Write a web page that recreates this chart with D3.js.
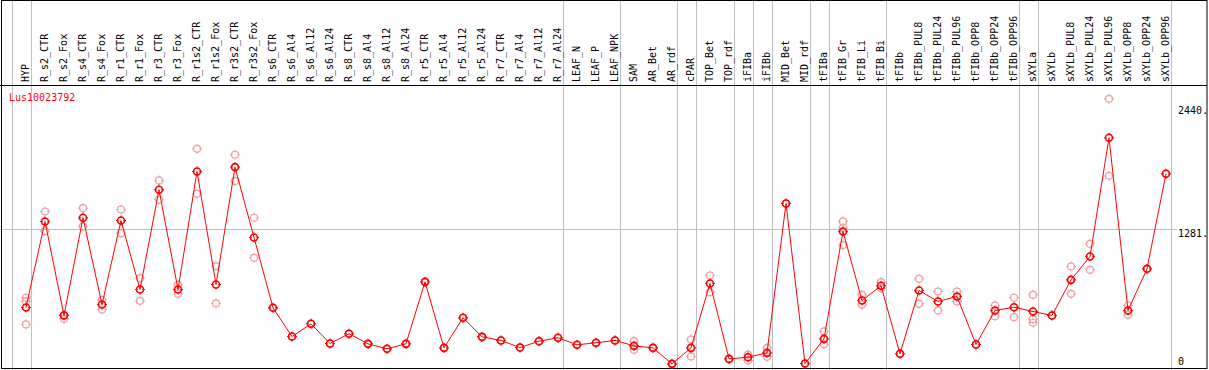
<!DOCTYPE html>
<html>
<head>
<meta charset="utf-8">
<script src="https://cdn.jsdelivr.net/npm/d3@7"></script>
<style>
  body { margin: 0; background: #fff; }
  text { font-family: "DejaVu Sans Mono", monospace; font-size: 10px; }
</style>
</head>
<body>
<script>
"use strict";

// sample names along the x axis
const samples = ["HYP", "R_s2_CTR", "R_s2_Fox", "R_s4_CTR", "R_s4_Fox", "R_r1_CTR", "R_r1_Fox",
  "R_r3_CTR", "R_r3_Fox", "R_r1s2_CTR", "R_r1s2_Fox", "R_r3s2_CTR", "R_r3s2_Fox",
  "R_s6_CTR", "R_s6_Al4", "R_s6_Al12", "R_s6_Al24", "R_s8_CTR", "R_s8_Al4", "R_s8_Al12", "R_s8_Al24",
  "R_r5_CTR", "R_r5_Al4", "R_r5_Al12", "R_r5_Al24", "R_r7_CTR", "R_r7_Al4", "R_r7_Al12", "R_r7_Al24",
  "LEAF_N", "LEAF_P", "LEAF_NPK", "SAM", "AR_Bet", "AR_rdf", "cPAR", "TOP_Bet", "TOP_rdf",
  "iFIBa", "iFIBb", "MID_Bet", "MID_rdf", "tFIBa", "tFIB_Gr", "tFIB_Li", "tFIB_Bi", "tFIBb",
  "tFIBb_PUL8", "tFIBb_PUL24", "tFIBb_PUL96", "tFIBb_OPP8", "tFIBb_OPP24", "tFIBb_OPP96",
  "sXYLa", "sXYLb", "sXYLb_PUL8", "sXYLb_PUL24", "sXYLb_PUL96", "sXYLb_OPP8", "sXYLb_OPP24", "sXYLb_OPP96"];

// mean expression per sample
const means = [538, 1350, 462, 1385, 566, 1359, 708, 1649, 708, 1822, 755, 1863, 1199,
  535, 264, 384, 198, 290, 195, 148, 195, 780, 157, 441, 261, 227, 160, 220, 252,
  186, 205, 227, 176, 157, 6, 157, 765, 53, 69, 110, 1520, 9, 242, 1256, 604, 743, 101,
  699, 595, 642, 189, 510, 541, 500, 463, 799, 1020, 2140, 510, 903, 1800];

// individual replicates (pale circles)
const replicates = [[630, 595, 378], [1444, 1258], [470, 431], [1476, 1303], [611, 519],
  [1463, 1240], [815, 601], [1737, 1555], [752, 667], [2036, 1611], [928, 576], [1980, 1731],
  [1385, 1007], [535], [264], [384], [198], [290], [195], [148], [195], [780], [157], [441],
  [261], [227], [160], [220], [252], [186], [205], [227], [220, 139], [157], [6], [236, 76],
  [840, 683], [53], [94, 38], [157, 72], [1520], [9], [312, 192], [1350, 1290, 1127],
  [658, 563], [777, 720], [101], [809, 573], [689, 510], [689, 595], [189], [557, 456],
  [630, 447], [658, 428, 394], [463], [925, 667], [1139, 894], [2508, 1781], [557, 469],
  [903], [1800]];

// last sample of each tissue group (a grey separator follows it)
const groupEnds = ["HYP", "R_r7_Al24", "LEAF_NPK", "AR_rdf", "cPAR", "TOP_rdf", "iFIBa", "iFIBb",
  "MID_rdf", "tFIBa", "tFIB_Bi", "tFIBb_OPP96", "sXYLa", "sXYLb_OPP96"];

const yTicks = [2440, 1281, 0];
const yTickLabels = ["2440.", "1281.", "0"];
const geneName = "Lus10023792";

const measurements = {
  width: 1209,
  height: 370,
  headerBottom: 85,
  plotBottom: 364.5,
  right: 1207
};

let svgContainer = d3.select("body").append("svg")
  .attr("width", measurements.width)
  .attr("height", measurements.height);

let scaleX = d3.scalePoint()
  .domain(samples)
  .range([26, 1166]);

let scaleY = d3.scaleLinear()
  .domain([0, 2640])
  .range([measurements.plotBottom, 84.8]);

const step = scaleX.step();

drawGrid();
drawLabels();
plotData();

function drawGrid() {
  // separators between groups, first one sits before HYP
  let seps = [scaleX(samples[0]) - step].concat(groupEnds.map((s) => scaleX(s)));
  svgContainer.selectAll(".sep")
    .data(seps)
    .enter()
    .append("line")
      .attr("class", "sep")
      .attr("x1", (d) => Math.round(d + step / 2 - 5) + 0.5)
      .attr("x2", (d) => Math.round(d + step / 2 - 5) + 0.5)
      .attr("y1", 0)
      .attr("y2", measurements.height)
      .attr("stroke", "#c0c0c0")
      .attr("stroke-width", 1);

  // middle horizontal grid line
  svgContainer.append("line")
    .attr("x1", 0)
    .attr("x2", 1177)
    .attr("y1", Math.round(scaleY(1281)) + 0.5)
    .attr("y2", Math.round(scaleY(1281)) + 0.5)
    .attr("stroke", "#c0c0c0");

  // frame and header line
  svgContainer.append("rect")
    .attr("x", 1.5)
    .attr("y", 0.5)
    .attr("width", measurements.right - 1.5)
    .attr("height", 368)
    .attr("fill", "none")
    .attr("stroke", "black");

  svgContainer.append("line")
    .attr("x1", 0)
    .attr("x2", measurements.right)
    .attr("y1", measurements.headerBottom + 0.5)
    .attr("y2", measurements.headerBottom + 0.5)
    .attr("stroke", "black");
}

function drawLabels() {
  svgContainer.selectAll(".sample")
    .data(samples)
    .enter()
    .append("text")
      .attr("class", "sample")
      .attr("transform", (d) => "translate(" + Math.round(scaleX(d) + 3) + ",82) rotate(-90)")
      .attr("fill", "black")
      .text((d) => d);

  svgContainer.append("text")
    .attr("x", 9)
    .attr("y", 101)
    .attr("fill", "red")
    .text(geneName);

  svgContainer.selectAll(".ytick")
    .data(yTicks)
    .enter()
    .append("text")
      .attr("class", "ytick")
      .attr("x", 1178)
      .attr("y", (d) => Math.min(scaleY(d) + 8, 365))
      .attr("fill", "black")
      .text((d, i) => yTickLabels[i]);
}

function marker(sel, color, width) {
  sel.append("path")
    .attr("d", "M0,-5V-2.5M0,2.5V5M-5,0H-2.5M2.5,0H5")
    .attr("stroke", color)
    .attr("stroke-width", 1);
  sel.append("circle")
    .attr("r", 3.5)
    .attr("fill", "none")
    .attr("stroke", color)
    .attr("stroke-width", width);
}

function plotData() {
  let reps = [];
  replicates.forEach((vals, i) => vals.forEach((v) => reps.push({ s: samples[i], v: v })));

  svgContainer.selectAll(".rep")
    .data(reps)
    .enter()
    .append("g")
      .attr("class", "rep")
      .attr("transform", (d) => "translate(" + scaleX(d.s) + "," + scaleY(d.v) + ")")
      .call(marker, "#f0a0a0", 1.2);

  let line = d3.line()
    .x((d, i) => scaleX(samples[i]))
    .y((d) => scaleY(d));

  svgContainer.append("path")
    .datum(means)
    .attr("d", line)
    .attr("fill", "none")
    .attr("stroke", "red")
    .attr("stroke-width", 1);

  svgContainer.selectAll(".mean")
    .data(means)
    .enter()
    .append("g")
      .attr("class", "mean")
      .attr("transform", (d, i) => "translate(" + scaleX(samples[i]) + "," + scaleY(d) + ")")
      .call(marker, "red", 1.6);
}
</script>
</body>
</html>
